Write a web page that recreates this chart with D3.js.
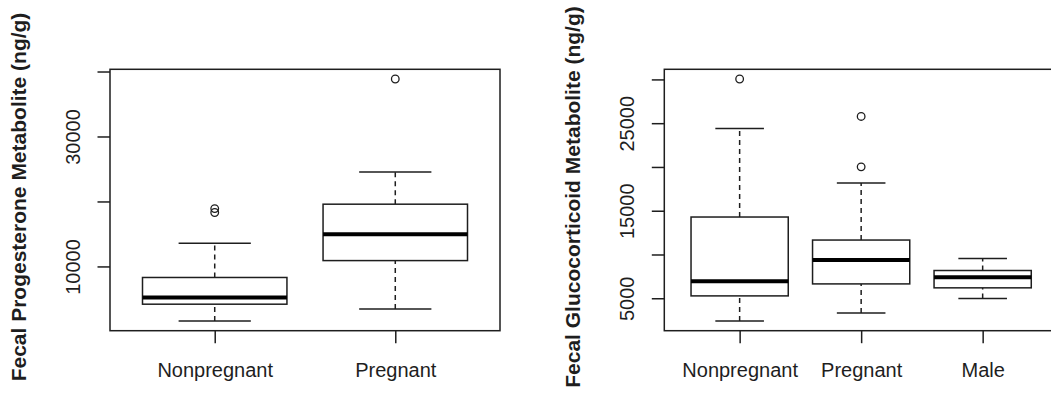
<!DOCTYPE html>
<html>
<head>
<meta charset="utf-8">
<script src="https://cdn.jsdelivr.net/npm/d3@7"></script>
<style>
  html, body { margin: 0; padding: 0; background: #fff; }
  svg { display: block; font-family: 'Liberation Sans', Arial, sans-serif; }
</style>
</head>
<body>
<div id="chart"></div>
<script>
// Left panel: progesterone
const progGroups = ['Nonpregnant', 'Pregnant'];
// [lower whisker, Q1, median, Q3, upper whisker]
const progStats = [
  [1600, 4190, 5210, 8300, 13580],
  [3460, 10900, 14950, 19580, 24530]
];
const progOutliers = [
  [18300, 18900],
  [38850]
];
const progTicks = [10000, 20000, 30000, 40000];
const progTickLabels = ['10000', '', '30000', ''];

// Right panel: glucocorticoid
const glucoGroups = ['Nonpregnant', 'Pregnant', 'Male'];
const glucoStats = [
  [2400, 5270, 6950, 14280, 24400],
  [3320, 6640, 9360, 11650, 18180],
  [4960, 6190, 7410, 8170, 9540]
];
const glucoOutliers = [
  [30050],
  [20010, 25770],
  []
];
const glucoTicks = [5000, 10000, 15000, 20000, 25000, 30000];
const glucoTickLabels = ['5000', '', '15000', '', '25000', ''];

const ink = '#1e1e1e';

const svg = d3.select('#chart')
  .append('svg')
  .attr('width', 1051)
  .attr('height', 393);

drawPanel({
  left: 110, right: 500, top: 69.3, bottom: 330.7,
  title: 'Fecal Progesterone Metabolite (ng/g)', titleX: 26,
  groups: progGroups, stats: progStats, outliers: progOutliers,
  ticks: progTicks, tickLabels: progTickLabels
});

drawPanel({
  left: 664.3, right: 1058, top: 69.3, bottom: 330.7,
  title: 'Fecal Glucocorticoid Metabolite (ng/g)', titleX: 580,
  groups: glucoGroups, stats: glucoStats, outliers: glucoOutliers,
  ticks: glucoTicks, tickLabels: glucoTickLabels
});

function drawPanel(cfg) {
  const n = cfg.groups.length;

  // R style limits: data range padded by 4% on each side
  const all = cfg.stats.flat().concat(cfg.outliers.flat());
  const lo = d3.min(all), hi = d3.max(all);
  const pad = (hi - lo) * 0.04;
  const y = d3.scaleLinear()
    .domain([lo - pad, hi + pad])
    .range([cfg.bottom, cfg.top]);

  const x = d3.scaleLinear()
    .domain([0.5 - 0.04 * n, n + 0.5 + 0.04 * n])
    .range([cfg.left, cfg.right]);

  const unit = x(2) - x(1);
  const boxHalf = unit * 0.4;
  const capHalf = boxHalf * 0.5;

  const g = svg.append('g');

  // frame
  g.append('rect')
    .attr('x', cfg.left)
    .attr('y', cfg.top)
    .attr('width', cfg.right - cfg.left)
    .attr('height', cfg.bottom - cfg.top)
    .attr('fill', 'none')
    .attr('stroke', ink)
    .attr('stroke-width', 1.5);

  // y axis
  const yAxis = g.append('g')
    .attr('transform', `translate(${cfg.left},0)`)
    .call(d3.axisLeft(y)
      .tickValues(cfg.ticks)
      .tickSize(12.5)
      .tickSizeOuter(0)
      .tickFormat((d, i) => cfg.tickLabels[i]));
  yAxis.select('.domain').remove();
  yAxis.selectAll('.tick line').attr('stroke', ink).attr('stroke-width', 1.5);
  yAxis.selectAll('.tick text')
    .attr('x', null).attr('dy', null)
    .attr('text-anchor', 'middle')
    .attr('transform', 'translate(-30,0) rotate(-90)')
    .attr('fill', ink)
    .style('font-size', '20px')
    .style('font-family', "'Liberation Sans', Arial, sans-serif");

  // x axis
  const xAxis = g.append('g')
    .attr('transform', `translate(0,${cfg.bottom})`)
    .call(d3.axisBottom(x)
      .tickValues(d3.range(1, n + 1))
      .tickSize(12.5)
      .tickSizeOuter(0)
      .tickFormat((d, i) => cfg.groups[i]));
  xAxis.select('.domain').remove();
  xAxis.selectAll('.tick line').attr('stroke', ink).attr('stroke-width', 1.5);
  xAxis.selectAll('.tick text')
    .attr('y', 46).attr('dy', null)
    .attr('fill', ink)
    .style('font-size', '20px')
    .style('font-family', "'Liberation Sans', Arial, sans-serif");

  // title
  g.append('text')
    .text(cfg.title)
    .attr('transform', `translate(${cfg.titleX},197) rotate(-90)`)
    .attr('text-anchor', 'middle')
    .attr('fill', ink)
    .style('font-size', '21px')
    .style('font-weight', 'bold');

  cfg.stats.forEach((s, i) => {
    const cx = x(i + 1);
    const [wLo, q1, med, q3, wHi] = s;

    // dashed whiskers
    [[wLo, q1], [q3, wHi]].forEach(([a, b]) => {
      g.append('line')
        .attr('x1', cx).attr('x2', cx)
        .attr('y1', y(a)).attr('y2', y(b))
        .attr('stroke', ink)
        .attr('stroke-width', 1.5)
        .attr('stroke-dasharray', '5,4');
    });

    // staples
    [wLo, wHi].forEach(v => {
      g.append('line')
        .attr('x1', cx - capHalf).attr('x2', cx + capHalf)
        .attr('y1', y(v)).attr('y2', y(v))
        .attr('stroke', ink)
        .attr('stroke-width', 1.5);
    });

    g.append('rect')
      .attr('x', cx - boxHalf)
      .attr('y', y(q3))
      .attr('width', boxHalf * 2)
      .attr('height', y(q1) - y(q3))
      .attr('fill', '#fff')
      .attr('stroke', ink)
      .attr('stroke-width', 1.5);

    g.append('line')
      .attr('x1', cx - boxHalf).attr('x2', cx + boxHalf)
      .attr('y1', y(med)).attr('y2', y(med))
      .attr('stroke', '#000')
      .attr('stroke-width', 4);

    cfg.outliers[i].forEach(v => {
      g.append('circle')
        .attr('cx', cx)
        .attr('cy', y(v))
        .attr('r', 3.8)
        .attr('fill', 'none')
        .attr('stroke', ink)
        .attr('stroke-width', 1.3);
    });
  });
}
</script>
</body>
</html>
